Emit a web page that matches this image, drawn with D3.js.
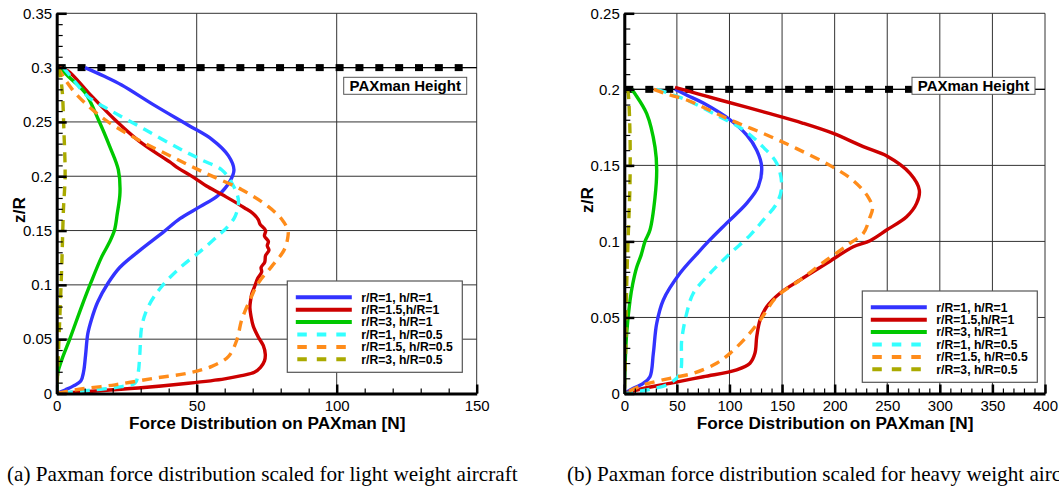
<!DOCTYPE html>
<html>
<head>
<meta charset="utf-8">
<script src="https://cdn.jsdelivr.net/npm/d3@7"></script>
<style>
  html, body { margin: 0; padding: 0; background: #fff; }
  svg { display: block; font-family: "Liberation Sans", Arial, Helvetica, sans-serif; }
</style>
</head>
<body>
<svg id="fig" width="1059" height="491"></svg>
<script>
// Force distribution profiles, [force N, z/R] pairs, top of PAXman down to the ground.

// (a) light weight aircraft
const lightR1H1 = [[10.1,0.300],[17,0.292],[23.2,0.284],[35.1,0.265],[47,0.247],[55.4,0.234],[61.3,0.219],[63.3,0.206],[62,0.196],[57.5,0.182],[51.2,0.172],[44,0.161],[38.3,0.149],[29.8,0.132],[22.5,0.116],[18.2,0.101],[14.6,0.084],[12.4,0.068],[11.1,0.055],[10.3,0.035],[9.6,0.020],[8.6,0.0115],[6,0.007],[3.2,0.0035],[0,0]];
const lightR15H1 = [[1,0.300],[4,0.297],[11.3,0.277],[20.8,0.252],[29.1,0.233],[37.5,0.218],[40.5,0.213],[43.4,0.2075],[47.6,0.201],[50.6,0.196],[53.5,0.191],[57.7,0.185],[60.5,0.181],[64.5,0.175],[67,0.171],[70,0.166],[72,0.160],[72.6,0.156],[74.6,0.150],[74.2,0.145],[75.6,0.140],[75.2,0.136],[75.8,0.132],[74.6,0.127],[74.3,0.121],[73,0.116],[73.2,0.112],[71.8,0.106],[70.6,0.098],[69.7,0.092],[69.2,0.085],[69,0.079],[69.4,0.071],[70.2,0.062],[72,0.052],[73.8,0.044],[74.5,0.036],[74.2,0.030],[72.8,0.024],[70.6,0.0195],[66,0.0165],[60,0.0135],[47,0.0094],[29.1,0.005],[11.3,0.0018],[0,0]];
const lightR3H1 = [[1.2,0.300],[4.1,0.292],[10.1,0.277],[14.9,0.252],[19,0.227],[22,0.206],[22.6,0.185],[21.6,0.165],[20.6,0.150],[18.6,0.138],[16.1,0.126],[12.2,0.102],[8.9,0.080],[4.8,0.051],[1.8,0.031],[0.4,0.019],[0,0]];
const lightR1H05 = [[2.4,0.300],[5,0.292],[11.3,0.273],[19.6,0.260],[31.5,0.243],[43.4,0.226],[51.8,0.215],[58.9,0.206],[62.5,0.194],[64.9,0.178],[63.7,0.163],[60.5,0.152],[58.4,0.147],[51.8,0.132],[44.6,0.117],[37.5,0.0985],[32.7,0.080],[30.4,0.062],[29.7,0.037],[29.1,0.019],[28,0.0096],[23.2,0.0064],[11.3,0.0028],[0,0]];
const lightR15H05 = [[0.5,0.300],[3,0.289],[7.7,0.2735],[17.3,0.252],[29.1,0.2336],[41.1,0.218],[53,0.203],[66.1,0.1876],[75.6,0.172],[80.5,0.160],[82.6,0.150],[82.5,0.143],[81.2,0.132],[76.8,0.117],[72,0.1017],[69,0.086],[66.1,0.068],[64.3,0.049],[61.3,0.034],[55.4,0.025],[47,0.0188],[35.1,0.0142],[20.8,0.008],[6.5,0.0034],[0,0]];
const lightR3H05 = [[0.6,0.300],[1.8,0.283],[2.6,0.240],[3,0.200],[2.4,0.169],[1.8,0.117],[0.9,0.056],[0.2,0.010],[0,0]];

// (b) heavy weight aircraft
const heavyR1H1 = [[48.2,0.200],[60,0.196],[75.1,0.191],[100.5,0.180],[116.3,0.170],[125.9,0.160],[130.6,0.149],[127.4,0.136],[116.3,0.125],[97.3,0.112],[80,0.100],[70,0.0925],[52.9,0.079],[37.1,0.0615],[30.8,0.046],[27.6,0.0264],[24.4,0.011],[18.1,0.0067],[8.6,0.0034],[0,0]];
const heavyR15H1 = [[48.2,0.2013],[70,0.197],[91,0.193],[138.5,0.184],[170,0.1777],[198.7,0.171],[227.2,0.1623],[250,0.156],[271.6,0.1448],[280.5,0.1338],[277.9,0.125],[268.4,0.1162],[249.4,0.1075],[233.6,0.1005],[217.7,0.0965],[192.4,0.0856],[167,0.0746],[148,0.0659],[135.4,0.057],[129,0.0481],[125.9,0.0373],[124.2,0.0264],[119.5,0.0199],[106.8,0.0155],[75.1,0.011],[43.4,0.0067],[14.9,0.0028],[0,0]];
const heavyR3H1 = [[7,0.200],[10.2,0.197],[21.3,0.184],[29.2,0.162],[30.8,0.147],[29.2,0.129],[24.4,0.1075],[19.7,0.100],[16,0.091],[11.8,0.083],[8,0.072],[5.4,0.061],[2.3,0.040],[0.7,0.018],[0,0]];
const heavyR1H05 = [[31,0.200],[59.3,0.193],[87.8,0.183],[113.1,0.1735],[132.1,0.162],[144.9,0.1514],[149.6,0.136],[144.9,0.125],[132.1,0.114],[119.5,0.104],[100.5,0.092],[81.5,0.079],[65.6,0.0659],[59.3,0.0527],[54.6,0.0352],[52.9,0.0133],[43.4,0.0067],[21.3,0.0023],[0,0]];
const heavyR15H05 = [[28,0.200],[40,0.197],[59.3,0.193],[100.5,0.180],[132.1,0.171],[163.9,0.161],[195.5,0.150],[217.7,0.140],[232,0.129],[236,0.122],[233.6,0.116],[227.2,0.1053],[214.5,0.0987],[192.4,0.0878],[167,0.0746],[144.9,0.0636],[129,0.0481],[116.3,0.0373],[100.5,0.0264],[87.8,0.0199],[65.6,0.0133],[43.4,0.010],[18.1,0.0056],[0,0]];
const heavyR3H05 = [[3,0.200],[3.8,0.197],[5.4,0.171],[5.4,0.138],[3.8,0.105],[2.3,0.072],[1.3,0.029],[0,0]];

const seriesNames = ["r/R=1, h/R=1", "r/R=1.5,h/R=1", "r/R=3, h/R=1", "r/R=1, h/R=0.5", "r/R=1.5, h/R=0.5", "r/R=3, h/R=0.5"];
const seriesColors = ["#3333ff", "#cc0000", "#00c800", "#33ffff", "#ff8c1a", "#aaaa00"];
const seriesDashed = [false, false, false, true, true, true];

const lightXTicks = [0, 50, 100, 150];
const lightYTicks = [0, 0.05, 0.1, 0.15, 0.2, 0.25, 0.3, 0.35];
const heavyXTicks = [0, 50, 100, 150, 200, 250, 300, 350, 400];
const heavyYTicks = [0, 0.05, 0.1, 0.15, 0.2, 0.25];

const lightPaxHeight = 0.3;
const heavyPaxHeight = 0.2;

const captions = [
  "(a) Paxman force distribution scaled for light weight aircraft",
  "(b) Paxman force distribution scaled for heavy weight aircraft"
];

const svg = d3.select("#fig");
svg.append("rect").attr("width", 1059).attr("height", 491).attr("fill", "#fff");

function panel(opts) {
  const { id, xr, yr, xMax, yMax, xTicks, yTicks, xMinorStep, yMinorStep, series, paxZ, legend, titleY, caption, captionX } = opts;
  const x = d3.scaleLinear().domain([0, xMax]).range(xr);
  const y = d3.scaleLinear().domain([0, yMax]).range(yr);
  const g = svg.append("g");

  g.append("clipPath").attr("id", id).append("rect")
    .attr("x", xr[0]).attr("y", yr[1]).attr("width", xr[1] - xr[0]).attr("height", yr[0] - yr[1]);

  // grid
  g.append("g").selectAll("line").data(xTicks).join("line")
    .attr("x1", d => x(d)).attr("x2", d => x(d)).attr("y1", yr[0]).attr("y2", yr[1])
    .attr("stroke", "#333").attr("stroke-width", 1);
  g.append("g").selectAll("line").data(yTicks).join("line")
    .attr("x1", xr[0]).attr("x2", xr[1]).attr("y1", d => y(d)).attr("y2", d => y(d))
    .attr("stroke", "#333").attr("stroke-width", 1);

  // PAXman height reference line with square markers
  const py = y(paxZ);
  g.append("line").attr("x1", xr[0]).attr("x2", xr[1]).attr("y1", py).attr("y2", py)
    .attr("stroke", "#000").attr("stroke-width", 1.2);
  g.append("g").selectAll("rect").data(d3.range(xr[0] + 5, xr[1] + 1, opts.markStep)).join("rect")
    .attr("x", d => d - 4).attr("y", py - 3.5).attr("width", 8).attr("height", 7).attr("fill", "#000");

  // profiles
  const line = d3.line().x(d => x(d[0])).y(d => y(d[1])).curve(d3.curveCatmullRom.alpha(0.5));
  const lines = g.append("g").attr("clip-path", `url(#${id})`);
  series.forEach((s, i) => {
    lines.append("path").datum(s)
      .attr("d", line)
      .attr("fill", "none")
      .attr("stroke", seriesColors[i])
      .attr("stroke-width", 3.4)
      .attr("stroke-linejoin", "round")
      .attr("stroke-dasharray", seriesDashed[i] ? "10,7" : null);
  });

  // axes: ticks point into the plot
  const axFont = g => g.selectAll("text").attr("font-size", 15).attr("fill", "#000")
    .attr("font-family", "'Liberation Sans', Arial, sans-serif");
  const xMinor = d3.range(0, xMax + 1e-9, xMinorStep);
  const yMinor = d3.range(0, yMax + 1e-9, yMinorStep);

  g.append("g").attr("transform", `translate(0,${yr[0]})`)
    .call(d3.axisBottom(x).tickValues(xMinor).tickSize(-5).tickSizeOuter(0).tickFormat(""))
    .call(a => a.select(".domain").remove())
    .call(a => a.selectAll("line").attr("stroke", "#000").attr("stroke-width", 1.2));
  g.append("g").attr("transform", `translate(${xr[0]},0)`)
    .call(d3.axisLeft(y).tickValues(yMinor).tickSize(-6).tickSizeOuter(0).tickFormat(""))
    .call(a => a.select(".domain").remove())
    .call(a => a.selectAll("line").attr("stroke", "#000").attr("stroke-width", 1.2));

  g.append("g").attr("transform", `translate(0,${yr[0]})`)
    .call(d3.axisBottom(x).tickValues(xTicks).tickSize(-9).tickSizeOuter(0).tickPadding(6).tickFormat(d3.format("d")))
    .call(a => a.select(".domain").attr("stroke", "#000").attr("stroke-width", 3))
    .call(a => a.selectAll("line").attr("stroke", "#000").attr("stroke-width", 2.5))
    .call(axFont)
    .call(a => a.selectAll("text").attr("y", 17).attr("dy", null));
  g.append("g").attr("transform", `translate(${xr[0]},0)`)
    .call(d3.axisLeft(y).tickValues(yTicks).tickSize(-10).tickSizeOuter(0).tickPadding(5).tickFormat(d => String(+d.toFixed(2))))
    .call(a => a.select(".domain").attr("stroke", "#000").attr("stroke-width", 3))
    .call(a => a.selectAll("line").attr("stroke", "#000").attr("stroke-width", 2.5))
    .call(axFont)
    .call(a => a.selectAll("text").attr("x", -4.5));

  // axis titles
  g.append("text").attr("x", (xr[0] + xr[1]) / 2 + 0.5).attr("y", 429)
    .attr("text-anchor", "middle").attr("font-size", 17.2).attr("font-weight", "bold")
    .text("Force Distribution on PAXman [N]");
  g.append("text").attr("transform", `translate(${xr[0] - 31.5},${titleY}) rotate(-90)`)
    .attr("text-anchor", "middle").attr("font-size", 17.2).attr("font-weight", "bold")
    .text("z/R");

  // height label
  const lb = g.append("g").attr("transform", `translate(${xr[1] - 133},77.3)`);
  lb.append("rect").attr("x", 0).attr("y", 0).attr("width", 123).attr("height", 17)
    .attr("fill", "#fff").attr("stroke", "#555").attr("stroke-width", 1);
  lb.append("text").attr("x", 61.5).attr("y", 13.6).attr("text-anchor", "middle")
    .attr("font-size", 15).attr("font-weight", "bold").text("PAXman Height");

  // legend
  const lg = g.append("g").attr("transform", `translate(${legend[0]},${legend[1]})`);
  lg.append("rect").attr("width", 175).attr("height", 91.3)
    .attr("fill", "#fff").attr("stroke", "#555").attr("stroke-width", 1.2);
  const rows = lg.selectAll("g").data(seriesNames).join("g")
    .attr("transform", (d, i) => `translate(0,${16.3 + i * 12.4})`);
  rows.append("line").attr("x1", 8.5).attr("x2", 64.5).attr("y1", 0).attr("y2", 0)
    .attr("stroke", (d, i) => seriesColors[i]).attr("stroke-width", 4)
    .attr("stroke-dasharray", (d, i) => seriesDashed[i] ? "9.5,10" : null)
    .attr("stroke-dashoffset", (d, i) => seriesDashed[i] ? -1.5 : null);
  rows.append("text").attr("x", 74).attr("y", 4.3).attr("font-size", 12.2).attr("font-weight", "bold")
    .text(d => d);

  // caption
  svg.append("text").attr("x", captionX).attr("y", 481)
    .attr("font-family", "'Liberation Serif', 'Times New Roman', serif").attr("font-size", 21.2)
    .text(caption);
}

panel({
  id: "clipA", xr: [56.7, 476.7], yr: [393.5, 13.3], xMax: 150, yMax: 0.35,
  xTicks: lightXTicks, yTicks: lightYTicks, xMinorStep: 10, yMinorStep: 0.01,
  series: [lightR1H1, lightR15H1, lightR3H1, lightR1H05, lightR15H05, lightR3H05],
  paxZ: lightPaxHeight, markStep: 19.85, legend: [287.3, 281], titleY: 210,
  caption: captions[0], captionX: 7
});
panel({
  id: "clipB", xr: [624.3, 1045], yr: [393.5, 13.3], xMax: 400, yMax: 0.25,
  xTicks: heavyXTicks, yTicks: heavyYTicks, xMinorStep: 10, yMinorStep: 0.01,
  series: [heavyR1H1, heavyR15H1, heavyR3H1, heavyR1H05, heavyR15H05, heavyR3H05],
  paxZ: heavyPaxHeight, markStep: 19.98, legend: [862.3, 291], titleY: 200,
  caption: captions[1], captionX: 567
});
</script>
</body>
</html>
